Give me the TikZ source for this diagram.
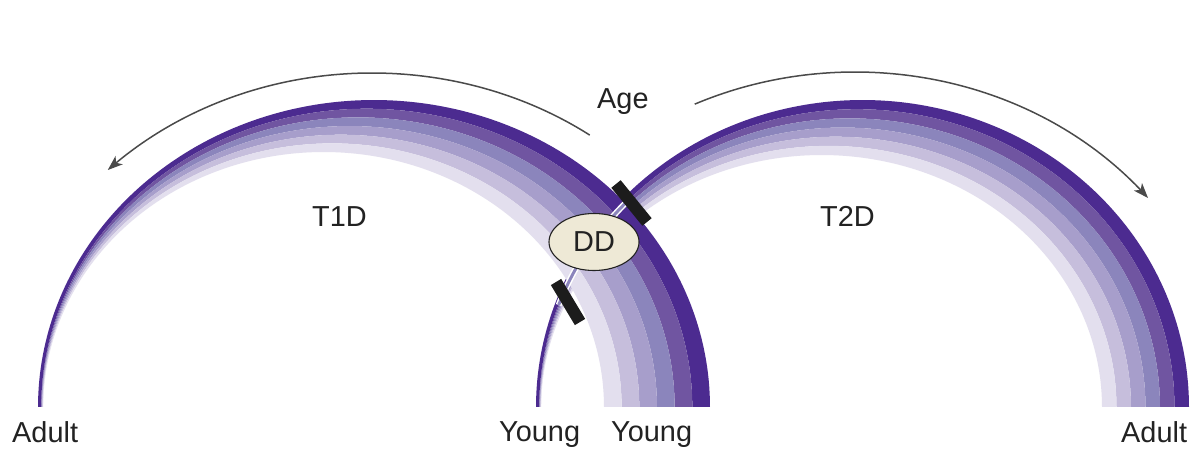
\documentclass[tikz,border=0pt]{standalone}
\usepackage{fontspec}
\setmainfont{Liberation Sans}
\usetikzlibrary{arrows.meta,shapes.geometric}
\definecolor{bandA}{HTML}{4C2B90}
\definecolor{bandB}{HTML}{7055A1}
\definecolor{bandC}{HTML}{8B85BC}
\definecolor{bandD}{HTML}{A79ECB}
\definecolor{bandE}{HTML}{C6BEDC}
\definecolor{bandF}{HTML}{E3DFEE}
\definecolor{txt}{HTML}{222222}
\definecolor{arr}{HTML}{4A4A4A}
\definecolor{ddfill}{HTML}{EEE9D6}
\definecolor{barcol}{HTML}{1C1C1C}
% #1 L0, #2 R0, #3 T0, #4 R6, #5 T6, #6 k, #7 colour
\newcommand\arcbandk[7]{%
  \pgfmathsetmacro\bLa{#1+(#6>0)*(3.2+0.4*(#6-1))}%
  \pgfmathsetmacro\bRa{#2-#6*(#2-#4)/6}%
  \pgfmathsetmacro\bTa{#3+#6*(#5-#3)/6}%
  \pgfmathsetmacro\bLb{#1+3.2+0.4*#6}%
  \pgfmathsetmacro\bRb{#2-(#6+1)*(#2-#4)/6}%
  \pgfmathsetmacro\bTb{#3+(#6+1)*(#5-#3)/6}%
  \pgfmathsetmacro\bCa{(\bLa+\bRa)/2}\pgfmathsetmacro\bAa{(\bRa-\bLa)/2}\pgfmathsetmacro\bBa{407-\bTa}%
  \pgfmathsetmacro\bCb{(\bLb+\bRb)/2}\pgfmathsetmacro\bAb{(\bRb-\bLb)/2}\pgfmathsetmacro\bBb{407-\bTb}%
  \fill[#7] plot[domain=180:0,samples=150,variable=\t] ({\bCa+\bAa*cos(\t)},{407-\bBa*sin(\t)})
    -- plot[domain=0:180,samples=150,variable=\t] ({\bCb+\bAb*cos(\t)},{407-\bBb*sin(\t)}) -- cycle;%
}
\begin{document}
\begin{tikzpicture}[x=1bp,y=-1bp,
  lbl/.style={inner sep=0pt, anchor=base west, text=txt, font=\fontsize{29}{32}\selectfont},
  agearrow/.style={draw=arr, line width=1.5bp, -{Stealth[length=15bp,width=11bp,inset=4bp]}},
  barstyle/.style={draw=barcol, line width=12bp},
  ddstyle/.style={ellipse, draw=txt, line width=1.1bp, fill=ddfill, minimum width=90bp, minimum height=57bp, inner sep=0pt, text=txt, font=\fontsize{29}{32}\selectfont}]
\useasboundingbox[fill=white] (0,0) rectangle (1191,449);
% T2D arc
\foreach \k/\col in {0/bandA,1/bandB,2/bandC,3/bandD,4/bandE,5/bandF}{\arcbandk{536}{1189}{100}{1102}{155}{\k}{\col}}
% T1D arc
\foreach \k/\col in {0/bandA,1/bandB,2/bandC,3/bandD,4/bandE,5/bandF}{\arcbandk{38}{710}{100}{604}{152}{\k}{\col}}
% T2D thin crossing segment
\draw[white, line width=6bp] plot[domain=160:137,samples=40,variable=\t] ({857+317.5*cos(\t)},{407-298*sin(\t)});
\draw[bandC, line width=3bp] plot[domain=160:137,samples=40,variable=\t] ({857+317.5*cos(\t)},{407-298*sin(\t)});
% DD
\node[ddstyle] (dd) at (594,242) {DD};
% bars
\coordinate (lbA) at (556,282); \coordinate (lbB) at (580,322);
\coordinate (ubA) at (616,184); \coordinate (ubB) at (647,222);
\draw[barstyle] (lbA) -- (lbB);
\draw[barstyle] (ubA) -- (ubB);
% labels
\node[lbl] (adultL) at (12,443) {Adult};
\node[lbl] (youngL) at (499,442) {Young};
\node[lbl] (youngR) at (611,442) {Young};
\node[lbl] (adultR) at (1121,443) {Adult};
\node[lbl] (t1d) at (312,227) {T1D};
\node[lbl] (t2d) at (820,227) {T2D};
\node[lbl] (age) at (597,109) {Age};
% age arrows
\draw[agearrow] plot[domain=54.5:134.8,samples=80,variable=\t] ({372+375*cos(\t)},{407-334*sin(\t)});
\draw[agearrow] plot[domain=115.3:38.6,samples=80,variable=\t] ({855+375*cos(\t)},{407-335*sin(\t)});
\end{tikzpicture}
\end{document}
